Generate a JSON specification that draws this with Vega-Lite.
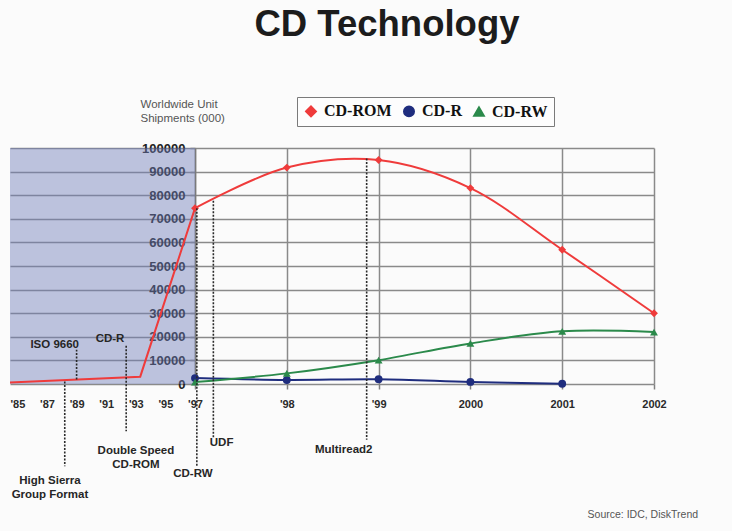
{
  "$schema": "https://vega.github.io/schema/vega-lite/v6.json",
  "width": 644,
  "height": 236,
  "autosize": "none",
  "padding": {"left": 10, "top": 148, "right": 78, "bottom": 147},
  "background": "#fbfbfb",
  "title": {
    "text": "CD Technology",
    "font": "Liberation Sans",
    "fontSize": 36.5,
    "fontWeight": "bold",
    "color": "#1c1c1c",
    "anchor": "middle",
    "frame": "group",
    "dx": 55,
    "baseline": "alphabetic",
    "offset": 24
  },
  "config": {
    "view": {"stroke": null},
    "font": "Liberation Sans"
  },
  "datasets": {
    "shipments": [
      {"year": 1984.5, "units": 600, "format": "CD-ROM"},
      {"year": 1993.3, "units": 3100, "format": "CD-ROM"},
      {"year": 1997, "units": 74500, "format": "CD-ROM"},
      {"year": 1998, "units": 91700, "format": "CD-ROM"},
      {"year": 1999, "units": 94900, "format": "CD-ROM"},
      {"year": 2000, "units": 83000, "format": "CD-ROM"},
      {"year": 2001, "units": 56900, "format": "CD-ROM"},
      {"year": 2002, "units": 30000, "format": "CD-ROM"},
      {"year": 1997, "units": 2500, "format": "CD-R"},
      {"year": 1998, "units": 1700, "format": "CD-R"},
      {"year": 1999, "units": 2000, "format": "CD-R"},
      {"year": 2000, "units": 900, "format": "CD-R"},
      {"year": 2001, "units": 100, "format": "CD-R"},
      {"year": 1997, "units": 800, "format": "CD-RW"},
      {"year": 1998, "units": 4500, "format": "CD-RW"},
      {"year": 1999, "units": 10100, "format": "CD-RW"},
      {"year": 2000, "units": 17200, "format": "CD-RW"},
      {"year": 2001, "units": 22300, "format": "CD-RW"},
      {"year": 2002, "units": 22000, "format": "CD-RW"}
    ],
    "milestones": [
      {"label": "High Sierra\nGroup Format", "ruleYear": 1988.2, "ruleFrom": 1100, "ruleTo": -34900, "labelYear": 1987.2, "labelUnits": -41200},
      {"label": "ISO 9660", "ruleYear": 1989.0, "ruleFrom": 1900, "ruleTo": 14500, "labelYear": 1987.52, "labelUnits": 16400},
      {"label": "CD-R", "ruleYear": 1992.35, "ruleFrom": 16200, "ruleTo": -20000, "labelYear": 1991.26, "labelUnits": 19100},
      {"label": "Double Speed\nCD-ROM", "ruleYear": null, "ruleFrom": null, "ruleTo": null, "labelYear": 1993.01, "labelUnits": -28200},
      {"label": "CD-RW", "ruleYear": 1997.02, "ruleFrom": 74500, "ruleTo": -35000, "labelYear": 1996.86, "labelUnits": -38000},
      {"label": "UDF", "ruleYear": 1997.2, "ruleFrom": 77700, "ruleTo": -22900, "labelYear": 1997.29, "labelUnits": -25050},
      {"label": "Multiread2", "ruleYear": 1998.87, "ruleFrom": 95600, "ruleTo": -23600, "labelYear": 1998.62, "labelUnits": -27800}
    ],
    "eras": [
      {"from": 1984.5, "to": 1997, "low": 0, "high": 100000}
    ],
    "notes": [
      {"text": "Source: IDC, DiskTrend", "year": 2002.48, "units": -55700}
    ]
  },
  "layer": [
    {
      "data": {"name": "eras"},
      "mark": {"type": "rect", "fill": "#6e7db9", "opacity": 0.45},
      "encoding": {
        "x": {"field": "from", "type": "quantitative", "scale": {"domain": [1984.5, 1997, 2002], "range": [0, 185, 644], "nice": false, "zero": false},
          "axis": {
            "orient": "bottom",
            "values": [1985, 1987, 1989, 1991, 1993, 1995, 1997, 1998, 1999, 2000, 2001, 2002],
            "tickCount": 20,
            "labelExpr": "datum.value >= 2000 ? toString(datum.value) : \"'\" + slice(toString(datum.value), 2)",
            "title": null,
            "domain": false,
            "labelFont": "Liberation Sans",
            "labelFontSize": 11,
            "labelFontWeight": "bold",
            "labelColor": "#2a2a2a",
            "labelPadding": 9,
            "labelFlush": false,
            "labelOverlap": false,
            "tickSize": 5,
            "tickColor": "#808080",
            "tickWidth": 1.5,
            "tickOpacity": {"condition": {"test": "datum.value >= 1997", "value": 1}, "value": 0},
            "grid": true,
            "gridColor": "#8a8a8a",
            "gridWidth": 1.5,
            "gridOpacity": {"condition": {"test": "datum.value >= 1997", "value": 1}, "value": 0}
          }
        },
        "x2": {"field": "to"},
        "y": {"field": "low", "type": "quantitative", "scale": {"domain": [0, 100000], "nice": false, "zero": true}},
        "y2": {"field": "high"}
      }
    },
    {
      "data": {"name": "shipments"},
      "transform": [{"filter": "datum.format === 'CD-ROM' && datum.year <= 1997"}],
      "mark": {"type": "line", "strokeWidth": 2, "color": "#ef3b3b"},
      "encoding": {
        "x": {"field": "year", "type": "quantitative"},
        "y": {"field": "units", "type": "quantitative",
          "axis": {
            "orient": "left",
            "offset": -185,
            "values": [0, 10000, 20000, 30000, 40000, 50000, 60000, 70000, 80000, 90000, 100000],
            "tickCount": 20,
            "labelOverlap": false,
            "labelExpr": "datum.value + ''",
            "title": ["Worldwide Unit", "Shipments (000)"],
            "titleAngle": 0,
            "titleAlign": "left",
            "titleBaseline": "alphabetic",
            "titleX": -55,
            "titleY": -41,
            "titleFont": "Liberation Sans",
            "titleFontSize": 11.5,
            "titleFontWeight": "normal",
            "titleColor": "#555555",
            "titleLineHeight": 14,
            "labelFont": "Liberation Sans",
            "labelFontSize": 13,
            "labelFontWeight": "bold",
            "labelColor": "#222222",
            "labelPadding": 5,
            "tickSize": 5,
            "tickColor": "#8a8a8a",
            "tickWidth": 1.5,
            "domain": true,
            "domainColor": "#7a7a7a",
            "domainWidth": 1.5,
            "grid": true,
            "gridColor": "#8a8a8a",
            "gridWidth": 1.5
          }
        }
      }
    },
    {
      "data": {"name": "shipments"},
      "transform": [{"filter": "datum.year >= 1997"}],
      "mark": {"type": "line", "strokeWidth": 2, "interpolate": "catmull-rom"},
      "encoding": {
        "x": {"field": "year", "type": "quantitative"},
        "y": {"field": "units", "type": "quantitative"},
        "color": {
          "field": "format",
          "type": "nominal",
          "scale": {"domain": ["CD-ROM", "CD-R", "CD-RW"], "range": ["#ef3b3b", "#1f2d7e", "#2b8a4b"]},
          "legend": {
            "orient": "none",
            "legendX": 287,
            "legendY": -51,
            "direction": "horizontal",
            "title": null,
            "labelFont": "Liberation Serif",
            "labelFontSize": 16,
            "labelFontWeight": "bold",
            "labelColor": "#111111",
            "labelOffset": 5,
            "columnPadding": 8,
            "padding": 6,
            "strokeColor": "#7a7a7a",
            "fillColor": "#fdfdfd",
            "symbolSize": 110
          }
        }
      }
    },
    {
      "data": {"name": "shipments"},
      "transform": [{"filter": "datum.year >= 1997"}],
      "mark": {"type": "point", "filled": true, "opacity": 1, "size": 62},
      "encoding": {
        "x": {"field": "year", "type": "quantitative"},
        "y": {"field": "units", "type": "quantitative"},
        "color": {"field": "format", "type": "nominal"},
        "shape": {
          "field": "format",
          "type": "nominal",
          "scale": {"domain": ["CD-ROM", "CD-R", "CD-RW"], "range": ["diamond", "circle", "triangle-up"]},
          "legend": null
        }
      }
    },
    {
      "data": {"name": "milestones"},
      "transform": [{"filter": "isValid(datum.ruleYear)"}],
      "mark": {"type": "rule", "color": "#2a2a2a", "strokeWidth": 1.6, "strokeDash": [2, 1.5]},
      "encoding": {
        "x": {"field": "ruleYear", "type": "quantitative"},
        "y": {"field": "ruleFrom", "type": "quantitative"},
        "y2": {"field": "ruleTo"}
      }
    },
    {
      "data": {"name": "milestones"},
      "mark": {"type": "text", "font": "Liberation Sans", "fontSize": 11.5, "fontWeight": "bold", "color": "#262626", "align": "center", "baseline": "middle", "lineBreak": "\n", "lineHeight": 14},
      "encoding": {
        "x": {"field": "labelYear", "type": "quantitative"},
        "y": {"field": "labelUnits", "type": "quantitative"},
        "text": {"field": "label"}
      }
    },
    {
      "data": {"name": "notes"},
      "mark": {"type": "text", "font": "Liberation Sans", "fontSize": 10.5, "color": "#555555", "align": "right", "baseline": "middle"},
      "encoding": {
        "x": {"field": "year", "type": "quantitative"},
        "y": {"field": "units", "type": "quantitative"},
        "text": {"field": "text"}
      }
    }
  ]
}
